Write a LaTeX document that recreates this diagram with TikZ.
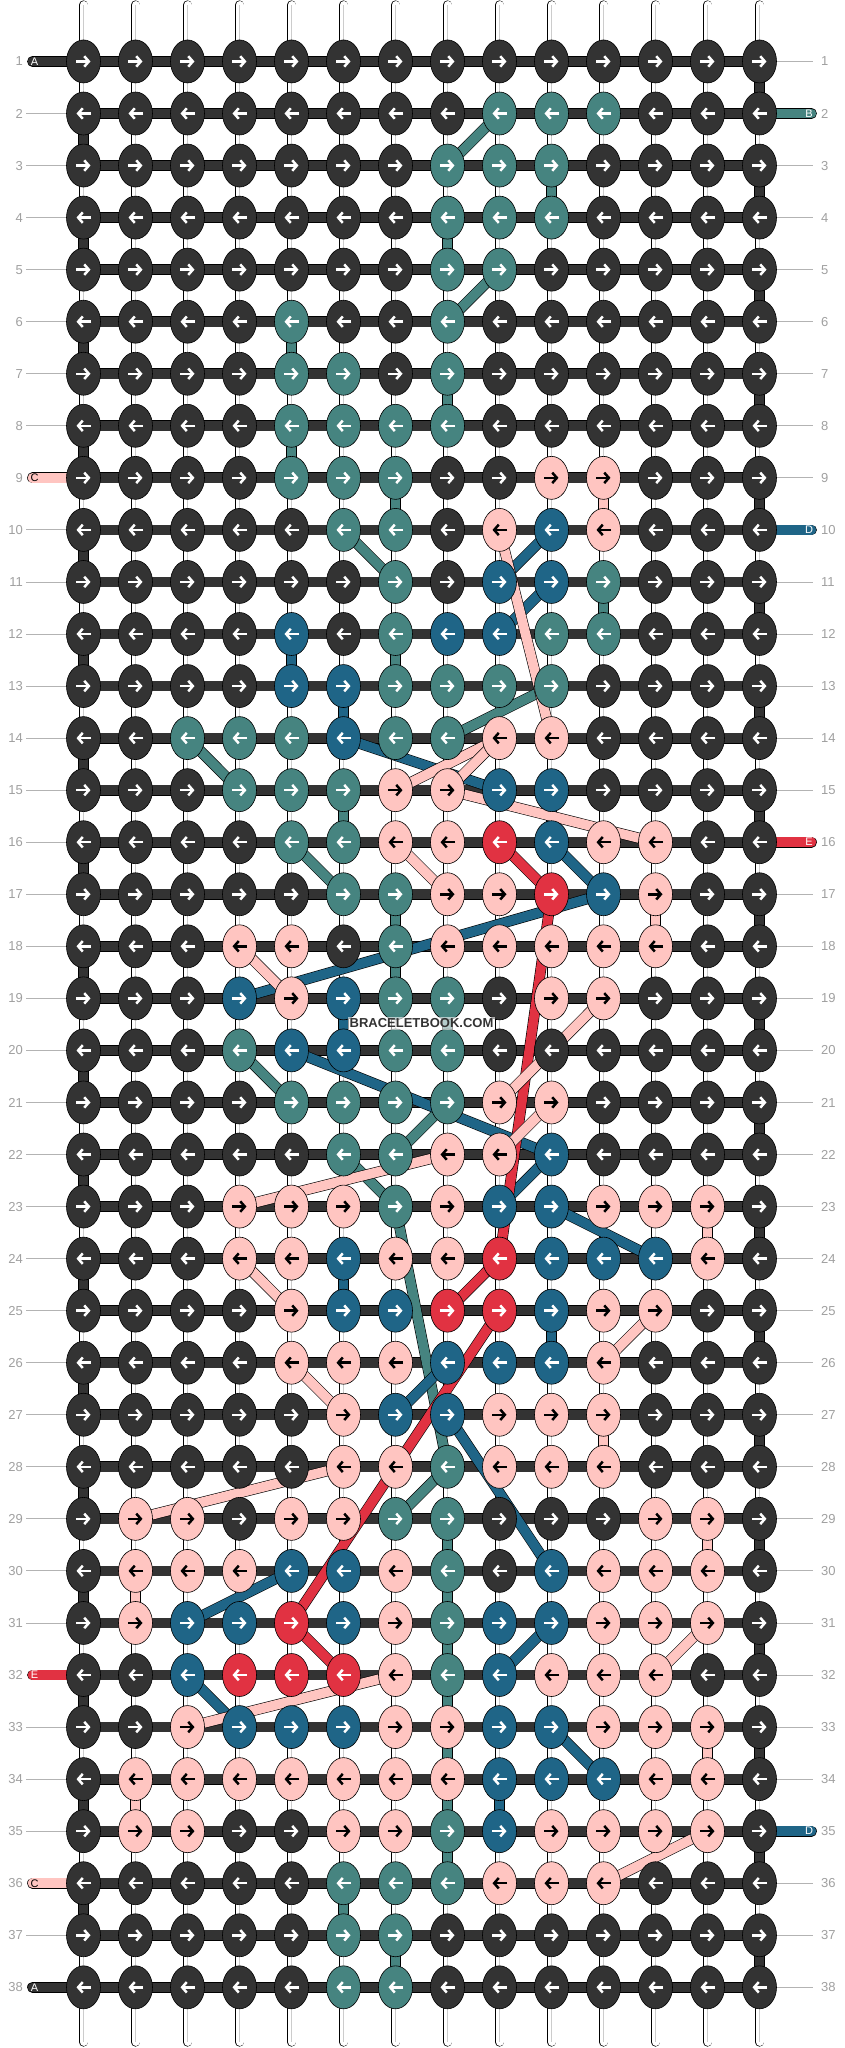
\documentclass[tikz,border=0pt]{standalone}
\usepackage{fontspec}
\setmainfont{Liberation Sans}
\usepackage{xcolor}
\usepackage{tikz}
\usetikzlibrary{arrows.meta}
\usetikzlibrary{shapes.geometric}

\definecolor{fillD}{HTML}{333333}
\definecolor{fillT}{HTML}{468480}
\definecolor{fillB}{HTML}{1F6587}
\definecolor{fillP}{HTML}{FFC5C1}
\definecolor{fillR}{HTML}{E13242}
\colorlet{arwD}{white}
\colorlet{arwT}{white}
\colorlet{arwB}{white}
\colorlet{arwR}{white}
\colorlet{arwP}{black}
\definecolor{rowgrey}{HTML}{A0A0A0}

\pgfdeclarelayer{warps}
\pgfdeclarelayer{bars}
\pgfdeclarelayer{links}
\pgfsetlayers{warps,bars,links,main}

\tikzset{
	knot/.style={ellipse, draw=black, line width=0.6pt, fill=fill#1,
		minimum width=34pt, minimum height=43pt, inner sep=0pt},
	fwd/.style={path picture={\draw[color=#1, line width=2.5pt, -{Straight Barb[length=4.6pt,width=10.5pt]}]
		([xshift=-7.5pt]path picture bounding box.center) -- ([xshift=7pt]path picture bounding box.center);}},
	back/.style={path picture={\draw[color=#1, line width=2.5pt, -{Straight Barb[length=4.6pt,width=10.5pt]}]
		([xshift=7.5pt]path picture bounding box.center) -- ([xshift=-7pt]path picture bounding box.center);}},
	thread/.style={draw=black, line width=0.6pt, double=fill#1, double distance=9.6pt},
	tab/.style={thread=#1, line cap=round},
	warp/.style={draw=black, line width=0.6pt, double=white, double distance=8pt, line cap=round},
	guide/.style={draw=rowgrey!80, line width=0.9pt},
	rownum/.style={text=rowgrey, font=\fontsize{13}{15}\selectfont, inner sep=0pt},
	tabletter/.style={font=\fontsize{11}{12}\selectfont, inner sep=0pt},
}

% one row of knots: row, direction, colours
\newcommand{\knotrow}[3]{
	\foreach \k [count=\c] in {#3} {
		\node[knot=\k, #2=arw\k] (k#1-\c) at (31.5+52*\c, 9.4+52.05*#1) {};
	}
}

\begin{document}
\begin{tikzpicture}[x=1pt,y=-1pt]
	\useasboundingbox (0,0) rectangle (844,2048);

	% knots
	\knotrow{1}{fwd}{D,D,D,D,D,D,D,D,D,D,D,D,D,D}
	\knotrow{2}{back}{D,D,D,D,D,D,D,D,T,T,T,D,D,D}
	\knotrow{3}{fwd}{D,D,D,D,D,D,D,T,T,T,D,D,D,D}
	\knotrow{4}{back}{D,D,D,D,D,D,D,T,T,T,D,D,D,D}
	\knotrow{5}{fwd}{D,D,D,D,D,D,D,T,T,D,D,D,D,D}
	\knotrow{6}{back}{D,D,D,D,T,D,D,T,D,D,D,D,D,D}
	\knotrow{7}{fwd}{D,D,D,D,T,T,D,T,D,D,D,D,D,D}
	\knotrow{8}{back}{D,D,D,D,T,T,T,T,D,D,D,D,D,D}
	\knotrow{9}{fwd}{D,D,D,D,T,T,T,D,D,P,P,D,D,D}
	\knotrow{10}{back}{D,D,D,D,D,T,T,D,P,B,P,D,D,D}
	\knotrow{11}{fwd}{D,D,D,D,D,D,T,D,B,B,T,D,D,D}
	\knotrow{12}{back}{D,D,D,D,B,D,T,B,B,T,T,D,D,D}
	\knotrow{13}{fwd}{D,D,D,D,B,B,T,T,T,T,D,D,D,D}
	\knotrow{14}{back}{D,D,T,T,T,B,T,T,P,P,D,D,D,D}
	\knotrow{15}{fwd}{D,D,D,T,T,T,P,P,B,B,D,D,D,D}
	\knotrow{16}{back}{D,D,D,D,T,T,P,P,R,B,P,P,D,D}
	\knotrow{17}{fwd}{D,D,D,D,D,T,T,P,P,R,B,P,D,D}
	\knotrow{18}{back}{D,D,D,P,P,D,T,P,P,P,P,P,D,D}
	\knotrow{19}{fwd}{D,D,D,B,P,B,T,T,D,P,P,D,D,D}
	\knotrow{20}{back}{D,D,D,T,B,B,T,T,D,D,D,D,D,D}
	\knotrow{21}{fwd}{D,D,D,D,T,T,T,T,P,P,D,D,D,D}
	\knotrow{22}{back}{D,D,D,D,D,T,T,P,P,B,D,D,D,D}
	\knotrow{23}{fwd}{D,D,D,P,P,P,T,P,B,B,P,P,P,D}
	\knotrow{24}{back}{D,D,D,P,P,B,P,P,R,B,B,B,P,D}
	\knotrow{25}{fwd}{D,D,D,D,P,B,B,R,R,B,P,P,D,D}
	\knotrow{26}{back}{D,D,D,D,P,P,P,B,B,B,P,D,D,D}
	\knotrow{27}{fwd}{D,D,D,D,D,P,B,B,P,P,P,D,D,D}
	\knotrow{28}{back}{D,D,D,D,D,P,P,T,P,P,P,D,D,D}
	\knotrow{29}{fwd}{D,P,P,D,P,P,T,T,D,D,D,P,P,D}
	\knotrow{30}{back}{D,P,P,P,B,B,P,T,D,B,P,P,P,D}
	\knotrow{31}{fwd}{D,P,B,B,R,B,P,T,B,B,P,P,P,D}
	\knotrow{32}{back}{D,D,B,R,R,R,P,T,B,P,P,P,D,D}
	\knotrow{33}{fwd}{D,D,P,B,B,B,P,P,B,B,P,P,P,D}
	\knotrow{34}{back}{D,P,P,P,P,P,P,P,B,B,B,P,P,D}
	\knotrow{35}{fwd}{D,P,P,D,D,P,P,T,B,P,P,P,P,D}
	\knotrow{36}{back}{D,D,D,D,D,T,T,T,P,P,P,D,D,D}
	\knotrow{37}{fwd}{D,D,D,D,D,T,T,D,D,D,D,D,D,D}
	\knotrow{38}{back}{D,D,D,D,D,T,T,D,D,D,D,D,D,D}

	% warp strings and row guides
	\begin{pgfonlayer}{warps}
		\fill[white] (0,0) rectangle (844,2048);
		\foreach \c in {1,...,14} {
			\coordinate (top\c) at (31.5+52*\c, 5);
			\coordinate (bot\c) at (31.5+52*\c, 2042);
			\draw[warp] (top\c) -- (bot\c);
			\draw[gray!40, line width=0.5pt] (top\c) -- (bot\c);
		}
		\foreach \r in {2,...,8,10,11,...,31,33,34,35,37} {
			\coordinate (gl\r) at (26, 9.4+52.05*\r);
			\draw[guide] (gl\r) -- (k\r-1.west);
		}
		\foreach \r in {1,3,4,...,9,11,12,...,15,17,18,...,34,36,37,38} {
			\coordinate (gr\r) at (813, 9.4+52.05*\r);
			\draw[guide] (k\r-14.east) -- (gr\r);
		}
	\end{pgfonlayer}

	% working string A
	\begin{pgfonlayer}{bars}
		\foreach \r in {1,...,38}
			\draw[thread=D] (k\r-1.center) -- (k\r-14.center);
		\foreach \r [evaluate=\r as \s using int(\r+1)] in {1,3,...,37}
			\draw[thread=D] (k\r-14.center) -- (k\s-14.center);
		\foreach \r [evaluate=\r as \s using int(\r+1)] in {2,4,...,36}
			\draw[thread=D] (k\r-1.center) -- (k\s-1.center);
		% loose ends
		\foreach \r/\t in {1/D, 9/P, 32/R, 36/P, 38/D} {
			\coordinate (in\r) at (32.5, 9.4+52.05*\r);
			\draw[tab=\t] (in\r) -- (k\r-1.center);
		}
		\foreach \r/\t in {2/T, 10/B, 16/R, 35/B} {
			\coordinate (out\r) at (811.5, 9.4+52.05*\r);
			\draw[tab=\t] (k\r-14.center) -- (out\r);
		}
	\end{pgfonlayer}

	% coloured strings
	\begin{pgfonlayer}{links}
		\foreach \a/\b in {2-9/3-8, 3-10/4-10, 4-8/5-8, 5-9/6-8, 6-5/7-5, 7-8/8-8, 8-5/9-5,
			9-7/10-7, 10-6/11-7, 11-11/12-11, 12-7/13-7, 13-10/14-8, 14-3/15-4, 15-6/16-6,
			16-5/17-6, 17-7/18-7, 18-7/19-7, 19-8/20-8, 20-4/21-5, 21-8/22-7, 22-6/23-7,
			23-7/28-8, 28-8/29-7, 29-8/30-8, 30-8/31-8, 31-8/32-8, 32-8/35-8, 35-8/36-8,
			36-6/37-6, 37-7/38-7}
			\draw[thread=T] (k\a.center) -- (k\b.center);
		\foreach \a/\b in {10-10/11-9, 11-10/12-9, 12-5/13-5, 13-6/14-6, 14-6/15-9,
			15-10/16-10, 16-10/17-11, 17-11/19-4, 19-6/20-6, 20-5/22-10, 22-10/23-9,
			23-10/24-12, 24-6/25-6, 25-10/26-10, 26-8/27-7, 27-8/30-10, 30-5/31-3,
			31-10/32-9, 32-3/33-4, 33-10/34-11, 34-9/35-9}
			\draw[thread=B] (k\a.center) -- (k\b.center);
		\foreach \a/\b in {16-9/17-10, 17-10/24-9, 24-9/25-8, 25-9/31-5, 31-5/32-6}
			\draw[thread=R] (k\a.center) -- (k\b.center);
		\foreach \a/\b in {9-11/10-11, 10-9/14-10, 14-9/15-7, 14-9/15-8, 15-8/16-12,
			16-7/17-8, 17-12/18-12, 18-4/19-5, 19-11/21-9, 21-10/22-9, 22-8/23-4,
			23-13/24-13, 24-4/25-5, 25-12/26-11, 26-5/27-6, 27-11/28-11, 28-6/29-2,
			29-13/30-13, 30-2/31-2, 31-13/32-12, 32-7/33-3, 33-13/34-13, 34-2/35-2,
			35-13/36-11}
			\draw[thread=P] (k\a.center) -- (k\b.center);
	\end{pgfonlayer}

	% labels
	\foreach \r in {1,...,38} {
		\node[rownum, anchor=east] (numL\r) at (23, 9.4+52.05*\r) {\r};
		\node[rownum, anchor=west] (numR\r) at (821, 9.4+52.05*\r) {\r};
	}
	\foreach \r/\t/\n in {1/D/A, 9/P/C, 32/R/E, 36/P/C, 38/D/A}
		\node[tabletter, text=arw\t] (tabL\r) at (34.5, 9.4+52.05*\r) {\n};
	\foreach \r/\t/\n in {2/T/B, 10/B/D, 16/R/E, 35/B/D}
		\node[tabletter, text=arw\t] (tabR\r) at (809, 9.4+52.05*\r) {\n};

	\node[font=\bfseries\fontsize{13}{14}\selectfont, text=black!80, fill=white,
		fill opacity=0.6, text opacity=1, inner sep=1.5pt] (mark) at (421.5, 1023.5) {BRACELETBOOK.COM};

\end{tikzpicture}
\end{document}
